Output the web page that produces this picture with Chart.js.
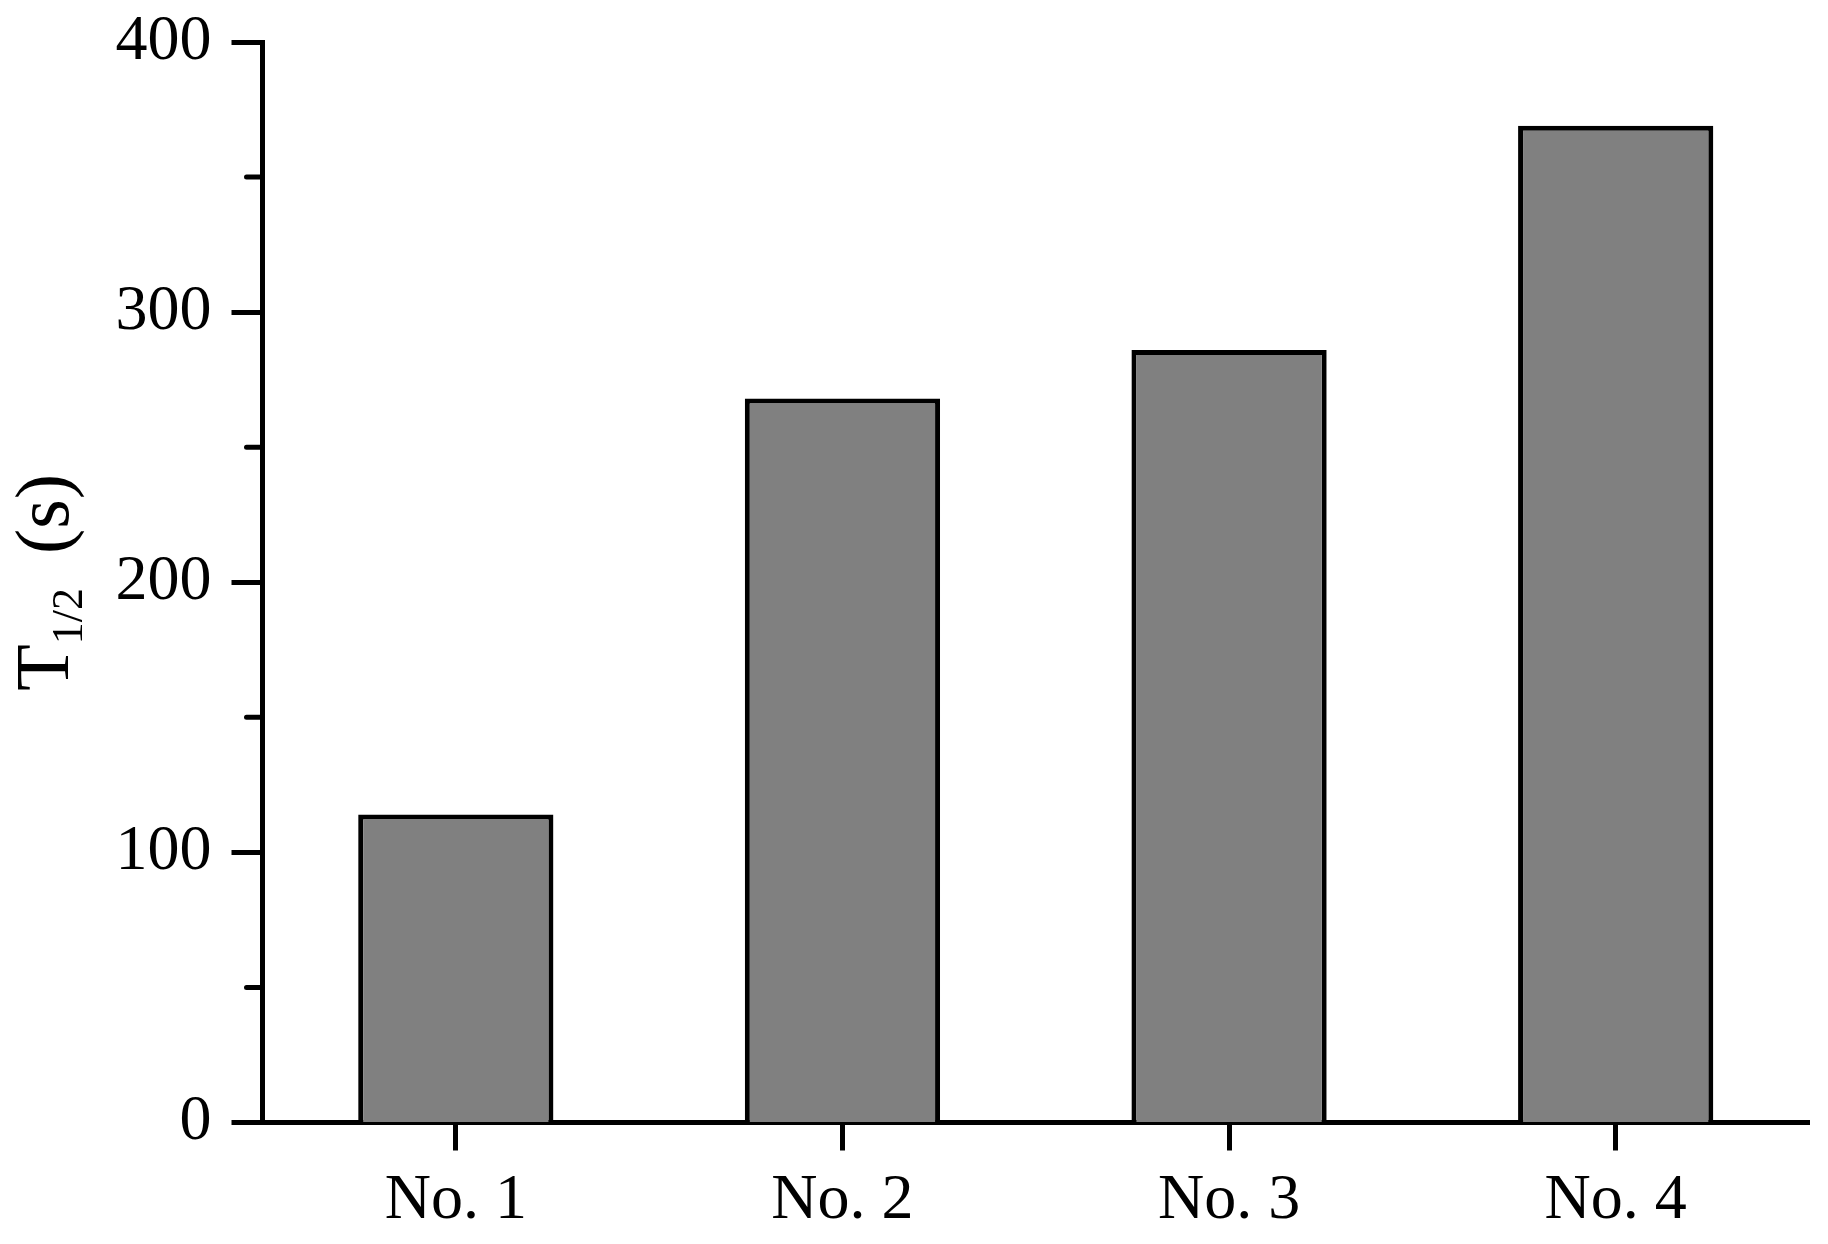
<!DOCTYPE html>
<html>
<head>
<meta charset="utf-8">
<script src="https://cdn.jsdelivr.net/npm/chart.js@4"></script>
<style>
  html, body { margin: 0; padding: 0; background: #ffffff; }
  #wrap { width: 1828px; height: 1244px; position: relative; }
</style>
</head>
<body>
<div id="wrap"><canvas id="c"></canvas></div>
<script>
const categories = ['No. 1', 'No. 2', 'No. 3', 'No. 4'];
const values = [114, 268, 286, 369];
const yMin = 0;
const yMax = 400;
const yMajorStep = 100;
const yMinorTicks = [50, 150, 250, 350];
const yTitleMain = 'T';
const yTitleSub = '1/2';
const yTitleUnit = '(s)';

const FONT = "'Liberation Serif', 'Times New Roman', Times, serif";

const minorTickPlugin = {
  id: 'minorTicks',
  afterDraw(chart) {
    const y = chart.scales.y;
    const ctx = chart.ctx;
    const left = chart.chartArea.left;
    ctx.save();
    ctx.strokeStyle = '#000';
    ctx.lineWidth = 5;
    ctx.lineCap = 'round';
    yMinorTicks.forEach(v => {
      const py = y.getPixelForValue(v);
      ctx.beginPath();
      ctx.moveTo(left - 16, py);
      ctx.lineTo(left, py);
      ctx.stroke();
    });
    ctx.restore();
  }
};

const yTitlePlugin = {
  id: 'yTitle',
  afterDraw(chart) {
    const ctx = chart.ctx;
    const ca = chart.chartArea;
    const cy = (ca.top + ca.bottom) / 2;
    const mainFont = '76px ' + FONT;
    const subFont = '44px ' + FONT;
    ctx.save();
    ctx.fillStyle = '#000';
    ctx.textBaseline = 'alphabetic';
    ctx.textAlign = 'left';
    ctx.font = mainFont;
    const wT = ctx.measureText(yTitleMain).width;
    const wU = ctx.measureText(yTitleUnit).width;
    ctx.font = subFont;
    const wS = ctx.measureText(yTitleSub).width;
    const gap = 34;
    const total = wT + wS + gap + wU;
    ctx.translate(68, cy);
    ctx.rotate(-Math.PI / 2);
    let x = -total / 2;
    ctx.font = mainFont;
    ctx.fillText(yTitleMain, x, 0);
    x += wT;
    ctx.font = subFont;
    ctx.fillText(yTitleSub, x, 14);
    x += wS + gap;
    ctx.font = mainFont;
    ctx.fillText(yTitleUnit, x, 0);
    ctx.restore();
  }
};

new Chart(document.getElementById('c'), {
  type: 'bar',
  data: {
    labels: categories,
    datasets: [{
      data: values,
      backgroundColor: '#808080',
      borderColor: '#000000',
      borderWidth: 5,
      borderSkipped: 'start',
      barPercentage: 0.505,
      categoryPercentage: 1.0
    }]
  },
  options: {
    responsive: true,
    maintainAspectRatio: false,
    animation: false,
    devicePixelRatio: 1,
    layout: { padding: { top: 42, right: 19, bottom: 0, left: 0 } },
    plugins: {
      legend: { display: false },
      tooltip: { enabled: false },
      title: { display: false }
    },
    scales: {
      x: {
        offset: true,
        grid: {
          offset: false,
          drawOnChartArea: false,
          drawTicks: true,
          tickLength: 28,
          tickWidth: 5,
          tickColor: '#000'
        },
        border: { display: true, color: '#000', width: 5 },
        ticks: {
          color: '#000',
          font: { family: FONT, size: 64 },
          padding: 12,
          maxRotation: 0
        },
        afterFit(scale) { scale.height = 121.5; }
      },
      y: {
        min: yMin,
        max: yMax,
        grid: {
          drawOnChartArea: false,
          drawTicks: true,
          tickLength: 31,
          tickWidth: 5,
          tickColor: '#000'
        },
        border: { display: true, color: '#000', width: 5 },
        ticks: {
          stepSize: yMajorStep,
          color: '#000',
          font: { family: FONT, size: 64, lineHeight: 0.6 },
          padding: 20
        },
        afterFit(scale) { scale.width = 262.5; }
      }
    }
  },
  plugins: [minorTickPlugin, yTitlePlugin]
});
</script>
</body>
</html>
